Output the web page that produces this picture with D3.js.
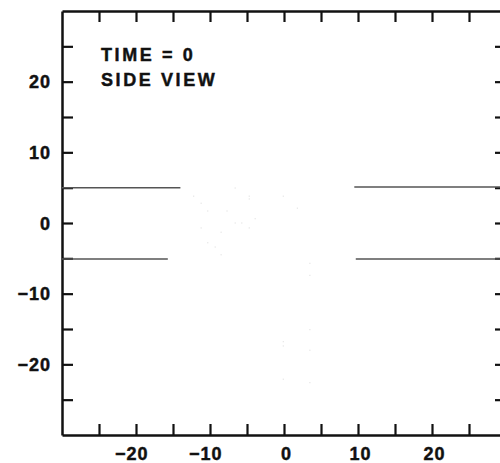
<!DOCTYPE html>
<html>
<head>
<meta charset="utf-8">
<script src="https://cdn.jsdelivr.net/npm/d3@7"></script>
<style>
  html, body { margin: 0; padding: 0; background: #fff; }
  svg { display: block; }
  .lbl { font-family: "Liberation Sans", Arial, sans-serif; font-weight: bold; fill: #111;
         stroke: #111; stroke-width: 0.45px; }
</style>
</head>
<body>
<svg id="chart" width="500" height="463"></svg>
<script>
// Axis ranges and ticks
const xDomain = [-30, 30];
const yDomain = [-30, 30];
const majorTicks = [-20, -10, 0, 10, 20];
const minorTicks = [-25, -20, -15, -10, -5, 0, 5, 10, 15, 20, 25];

// Disk boundary segments in the side view: [x0, x1, y]
const segStart = [-30, -30, 9.5, 9.7];
const segEnd   = [-14.0, -15.7, 30, 30];
const segY     = [5.0, -5.1, 5.1, -5.1];

// Scattered particles near the centre
const particleX = [-6.6, -12.2, -4.7, -4.7, -0.1, -11.2, -10.3, -7.7, 1.8, -3.9, -6.6, -5.7,
                   -11.2, -4.7, -8.5, -10.3, -9.3, -8.5, 3.5, 3.5, 3.5, -0.1, -0.1, 3.5, -0.1, 3.5];
const particleY = [4.95, 3.8, 3.8, 3.4, 3.8, 2.8, 1.7, 1.7, 2.1, 0.6, 0.0, 0.0,
                   -0.7, -0.7, -1.3, -2.8, -3.4, -4.5, -5.7, -7.4, -15.1, -16.8, -17.4, -18.0, -22.1, -22.6];

const titleLines = ["TIME = 0", "SIDE VIEW"];

const svg = d3.select("#chart");
const x = d3.scaleLinear().domain(xDomain).range([62, 506]);
const y = d3.scaleLinear().domain(yDomain).range([435, 11]);

const tickLen = 11;

function styleAxis(g) {
  g.select(".domain").attr("stroke", "#111").attr("stroke-width", 2.5);
  g.selectAll(".tick line").attr("stroke", "#111").attr("stroke-width", 2.2);
  g.selectAll(".tick text").remove();
}

// Frame: four axes with inward ticks
svg.append("g").attr("transform", `translate(0,${y(-30)})`)
  .call(d3.axisBottom(x).tickValues(minorTicks).tickSize(-tickLen).tickSizeOuter(0))
  .call(styleAxis);
svg.append("g").attr("transform", `translate(0,${y(30)})`)
  .call(d3.axisTop(x).tickValues(minorTicks).tickSize(-tickLen).tickSizeOuter(0))
  .call(styleAxis);
svg.append("g").attr("transform", `translate(${x(-30)},0)`)
  .call(d3.axisLeft(y).tickValues(minorTicks).tickSize(-tickLen).tickSizeOuter(0))
  .call(styleAxis);
svg.append("g").attr("transform", `translate(${x(30)},0)`)
  .call(d3.axisRight(y).tickValues(minorTicks).tickSize(-tickLen).tickSizeOuter(0))
  .call(styleAxis);

// Tick labels: digits centred on the tick, minus sign hanging to the left
const fmt = v => String(Math.abs(v));
const xl = svg.append("g");
majorTicks.forEach(v => {
  const t = xl.append("text").attr("class", "lbl")
    .attr("font-size", 18).attr("letter-spacing", 1)
    .attr("y", 460);
  const minus = v < 0 ? t.append("tspan").text("\u2212") : null;
  const digits = t.append("tspan").text(fmt(v));
  const dw = digits.node().getComputedTextLength();
  const mw = minus ? minus.node().getComputedTextLength() + 1 : 0;
  t.attr("x", x(v) + 2.5 - dw / 2 - mw);
});

const yl = svg.append("g");
majorTicks.forEach(v => {
  yl.append("text").attr("class", "lbl")
    .attr("font-size", 18).attr("letter-spacing", 1)
    .attr("text-anchor", "end")
    .attr("x", 51).attr("y", y(v) + 6.5)
    .text((v < 0 ? "\u2212" : "") + fmt(v));
});

// Title block
svg.append("g").selectAll("text").data(titleLines).join("text")
  .attr("class", "lbl")
  .attr("font-size", 18).attr("letter-spacing", 2.6)
  .attr("x", 101).attr("y", (d, i) => 61 + i * 24.5)
  .text(d => d);

// Disk boundary lines
svg.append("g").selectAll("line").data(segY).join("line")
  .attr("x1", (d, i) => x(segStart[i]))
  .attr("x2", (d, i) => x(segEnd[i]))
  .attr("y1", d => y(d)).attr("y2", d => y(d))
  .attr("stroke", "#555").attr("stroke-width", 1.5);

// Faint particles
svg.append("g").selectAll("rect").data(particleX).join("rect")
  .attr("x", d => x(d) - 0.5)
  .attr("y", (d, i) => y(particleY[i]) - 0.5)
  .attr("width", 1).attr("height", 1)
  .attr("fill", "#d8d8d8");
</script>
</body>
</html>
